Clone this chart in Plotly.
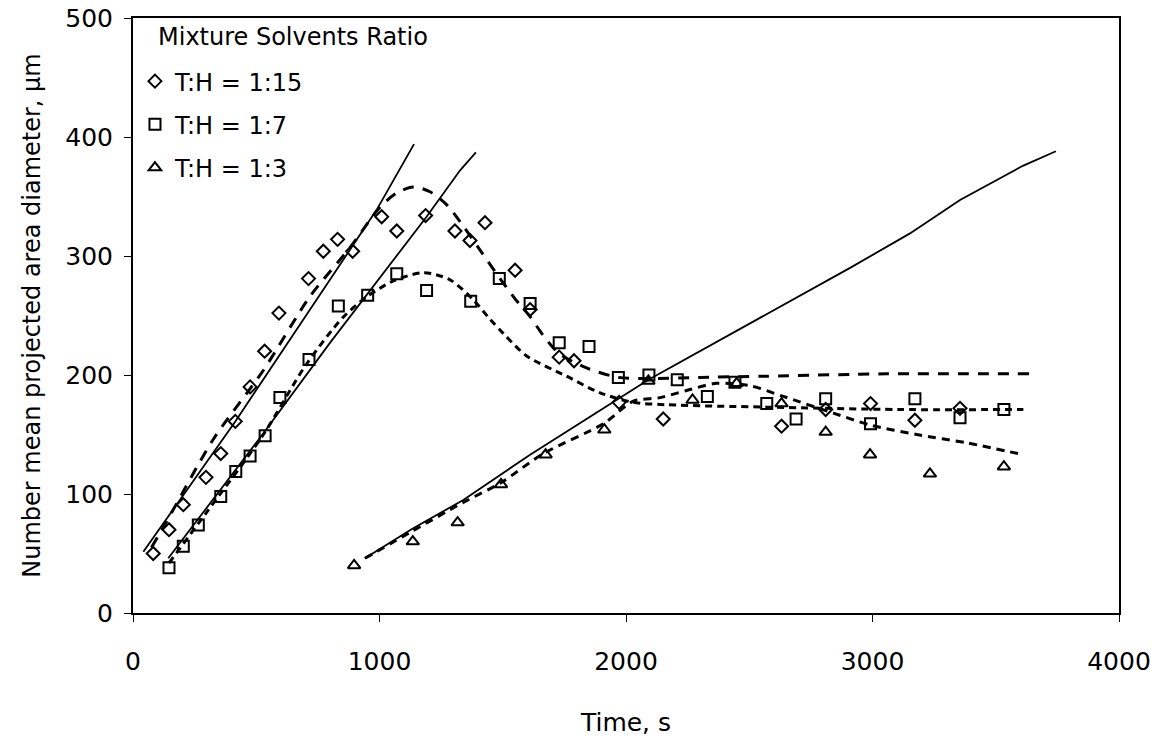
import plotly.graph_objects as go

# Measured particle sizes for the three toluene:heptane mixture ratios
t_115 = [82, 146, 204, 296, 356, 415, 475, 534, 592, 712, 772, 830, 891, 1009, 1070,
         1187, 1306, 1367, 1428, 1550, 1611, 1729, 1789, 1972, 2151, 2631, 2810,
         2992, 3172, 3355]
d_115 = [50, 70, 91, 114, 134, 161, 190, 220, 252, 281, 304, 314, 304, 333, 321,
         334, 321, 313, 328, 288, 255, 215, 212, 177, 163, 157, 171,
         176, 162, 172]

t_17 = [146, 204, 265, 356, 417, 475, 536, 596, 714, 833, 952, 1070, 1191, 1370,
        1486, 1611, 1729, 1850, 1969, 2093, 2208, 2330, 2442, 2571, 2690, 2810,
        2992, 3172, 3355, 3533]
d_17 = [38, 56, 74, 98, 119, 132, 149, 181, 213, 258, 267, 285, 271, 262,
        281, 260, 227, 224, 198, 200, 196, 182, 194, 176, 163, 180,
        159, 180, 164, 171]

t_13 = [897, 1135, 1317, 1493, 1674, 1912, 2091, 2270, 2449, 2631, 2810, 2990,
        3233, 3533]
d_13 = [40, 60, 76, 108, 133, 154, 195, 179, 193, 176, 152, 133, 117, 123]

# Growth model (solid lines)
fit_t_115 = [42, 415, 989, 1140]
fit_d_115 = [51.5, 161, 339, 394]
fit_t_17 = [143, 529, 799, 995, 1191, 1327, 1391]
fit_d_17 = [46, 151, 227, 280, 333, 372, 387]
fit_t_13 = [941, 1135, 1340, 1611, 2091, 2909, 3152, 3355, 3612, 3744]
fit_d_13 = [46, 71, 95, 133, 196, 290, 319, 347, 376, 388]

# Growth/breakage model (dashed lines)
dfit_t_115 = [75, 134, 326, 529, 718, 880, 1002, 1070, 1137, 1205, 1273, 1340, 1408,
              1489, 1550, 1611, 1665, 1729, 1840, 1969, 2091, 2300, 2571, 3057, 3639]
dfit_d_115 = [55, 76, 146, 204, 266, 307, 341, 353, 358, 354, 343, 325, 305,
              281, 264, 249, 233, 218, 206, 198, 197, 198, 199, 201, 201]
dfit_t_17 = [146, 300, 529, 700, 850, 950, 1056, 1178, 1286, 1381, 1448, 1502, 1597,
             1759, 1895, 2030, 2165, 2571, 3111, 3612]
dfit_d_17 = [42, 85, 150, 208, 248, 266, 279, 286, 280, 263, 247, 235, 216,
             199, 185, 177, 175, 173, 171, 171]
dfit_t_13 = [941, 1135, 1340, 1489, 1665, 1908, 2030, 2138, 2246, 2367, 2503, 2638,
             2841, 2990, 3179, 3382, 3612]
dfit_d_13 = [46, 69, 93, 109, 134, 159, 178, 181, 187, 193, 191, 182,
             168, 158, 150, 143, 133]

labels = ["T:H = 1:15", "T:H = 1:7", "T:H = 1:3"]
symbols = ["diamond-open", "square-open", "triangle-up-open"]
sizes = [10, 11, 11]

FONT = "DejaVu Sans, Verdana, sans-serif"
BLACK = "#000000"

fig = go.Figure()

# model curves first so the markers sit on top
for tx, dy in [(fit_t_115, fit_d_115), (fit_t_17, fit_d_17), (fit_t_13, fit_d_13)]:
    fig.add_trace(go.Scatter(x=tx, y=dy, mode="lines", showlegend=False,
                             line=dict(color=BLACK, width=1.8), hoverinfo="skip"))

for tx, dy, dash in [(dfit_t_115, dfit_d_115, "11px,9px"),
                     (dfit_t_17, dfit_d_17, "7px,5px"),
                     (dfit_t_13, dfit_d_13, "8px,6px")]:
    fig.add_trace(go.Scatter(x=tx, y=dy, mode="lines", showlegend=False,
                             line=dict(color=BLACK, width=3, dash=dash,
                                       shape="spline", smoothing=0.8),
                             hoverinfo="skip"))

for i, (tx, dy) in enumerate([(t_115, d_115), (t_17, d_17), (t_13, d_13)]):
    fig.add_trace(go.Scatter(x=tx, y=dy, mode="markers", name=labels[i],
                             legendgroup=labels[i],
                             marker=dict(symbol=symbols[i], size=sizes[i], color=BLACK,
                                         line=dict(color=BLACK, width=2))))

axis_common = dict(showline=True, linecolor=BLACK, linewidth=2, mirror=True,
                   showgrid=False, zeroline=False, ticks="outside", ticklen=7,
                   tickcolor=BLACK, tickwidth=1, automargin=False,
                   tickfont=dict(family=FONT, size=25, color=BLACK))

fig.update_xaxes(range=[0, 4000], tickvals=[0, 1000, 2000, 3000, 4000],
                 title=dict(text="Time, s", font=dict(family=FONT, size=25, color=BLACK),
                            standoff=38),
                 ticklabelstandoff=18, **axis_common)
fig.update_yaxes(range=[0, 500], tickvals=[0, 100, 200, 300, 400, 500],
                 title=dict(text="Number mean projected area diameter, \u03bcm",
                            font=dict(family=FONT, size=24, color=BLACK), standoff=18),
                 ticklabelstandoff=6, **axis_common)

# legend heading
fig.add_annotation(text="Mixture Solvents Ratio", xref="paper", yref="paper",
                   x=0.023, y=0.968, xanchor="left", yanchor="middle", showarrow=False,
                   font=dict(family=FONT, size=24, color=BLACK))

fig.update_layout(
    width=1162, height=739,
    margin=dict(l=133, r=43, t=18, b=126, autoexpand=False),
    paper_bgcolor="white", plot_bgcolor="white",
    font=dict(family=FONT, color=BLACK),
    legend=dict(
        font=dict(family=FONT, size=24, color=BLACK),
        x=0.002, y=0.931, xanchor="left", yanchor="top",
        bgcolor="rgba(0,0,0,0)", borderwidth=0,
        traceorder="grouped", tracegroupgap=9, itemwidth=30,
    ),
)

fig.write_html("out.html")
